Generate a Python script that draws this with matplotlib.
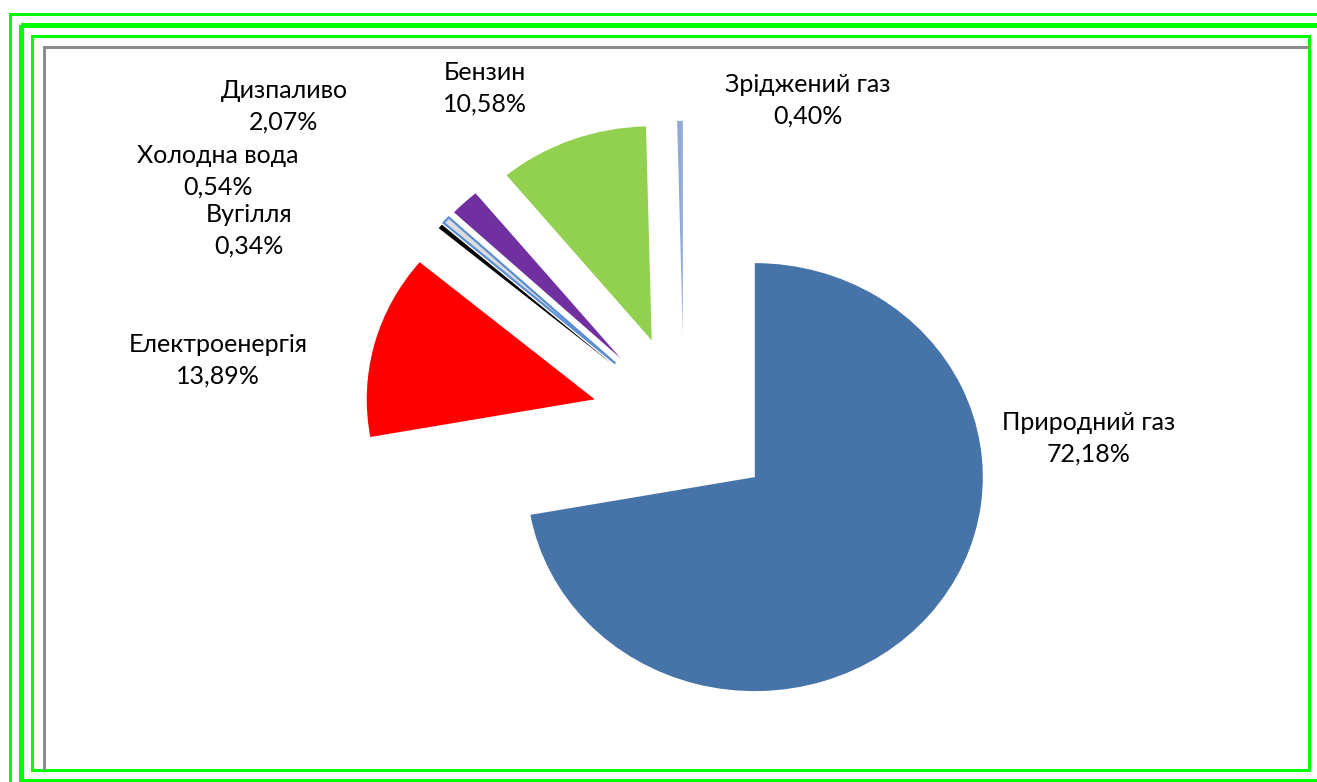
"""
Energy consumption structure pie chart (exploded), Ukrainian labels.
"""

import matplotlib

matplotlib.use("Agg")
import matplotlib.pyplot as plt  # noqa: E402
from matplotlib.patches import Rectangle  # noqa: E402
from matplotlib.lines import Line2D  # noqa: E402

# --------------------------------------------------------------------------- #
# data (clockwise from 12 o'clock)
# --------------------------------------------------------------------------- #
categories = ["Природний газ", "Електроенергія", "Вугілля", "Холодна вода",
              "Дизпаливо", "Бензин", "Зріджений газ"]
shares = [72.18, 13.89, 0.34, 0.54, 2.07, 10.58, 0.40]
colors = ["#4674A8", "#FF0000", "#000000", "#DCDCDC",
          "#7030A0", "#92D050", "#93AAD6"]

# label centres in pixels (x, y from top)
label_pos = [(1089, 438), (218, 360), (249, 230), (218, 171),
             (284, 106), (485, 88), (808, 100)]

W, H = 1317, 782
CX, CY = 684, 421.5        # pie centre, px
RX, RY = 228, 214          # pie radii, px (slightly stretched)

fig = plt.figure(figsize=(W / 100, H / 100), dpi=100)

# background frame in pixel coordinates
bg = fig.add_axes([0, 0, 1, 1])
bg.set_xlim(0, W)
bg.set_ylim(H, 0)
bg.axis("off")

green = "#00FF00"
px = 0.72  # points per pixel at dpi 100
bg.add_line(Line2D([10, 10, W + 5], [H + 5, 14, 14], color=green,
                   lw=3 * px, antialiased=False))
bg.add_patch(Rectangle((21, 25), W, 756, fill=False, ec=green,
                       lw=5 * px, antialiased=False))
bg.add_patch(Rectangle((32, 36), 1277, 734, fill=False, ec=green,
                       lw=3 * px, antialiased=False))
bg.add_line(Line2D([44, 44, 1307], [768, 47, 47], color="#8C8C8C",
                   lw=3 * px, antialiased=False))

# pie
ax = fig.add_axes([0, 0, 1, 1])
ax.patch.set_alpha(0)
wedges, _ = ax.pie(shares, explode=[0.405] * len(shares), startangle=90,
                   counterclock=False, colors=colors,
                   wedgeprops=dict(edgecolor="none", linewidth=0))
wedges[3].set_edgecolor("#5B8FD5")
wedges[3].set_linewidth(1.6)
ax.set_aspect("auto")
ax.set_xlim(-CX / RX, (W - CX) / RX)
ax.set_ylim((CY - H) / RY, CY / RY)
ax.axis("off")

for name, val, (x, y) in zip(categories, shares, label_pos):
    txt = f"{name}\n{val:.2f}".replace(".", ",") + "%"
    bg.text(x, y, txt, ha="center", va="center", multialignment="center",
            fontsize=18, family=["Lato", "DejaVu Sans"], color="#000000",
            linespacing=1.45)

fig.savefig("out.png", dpi=100)
